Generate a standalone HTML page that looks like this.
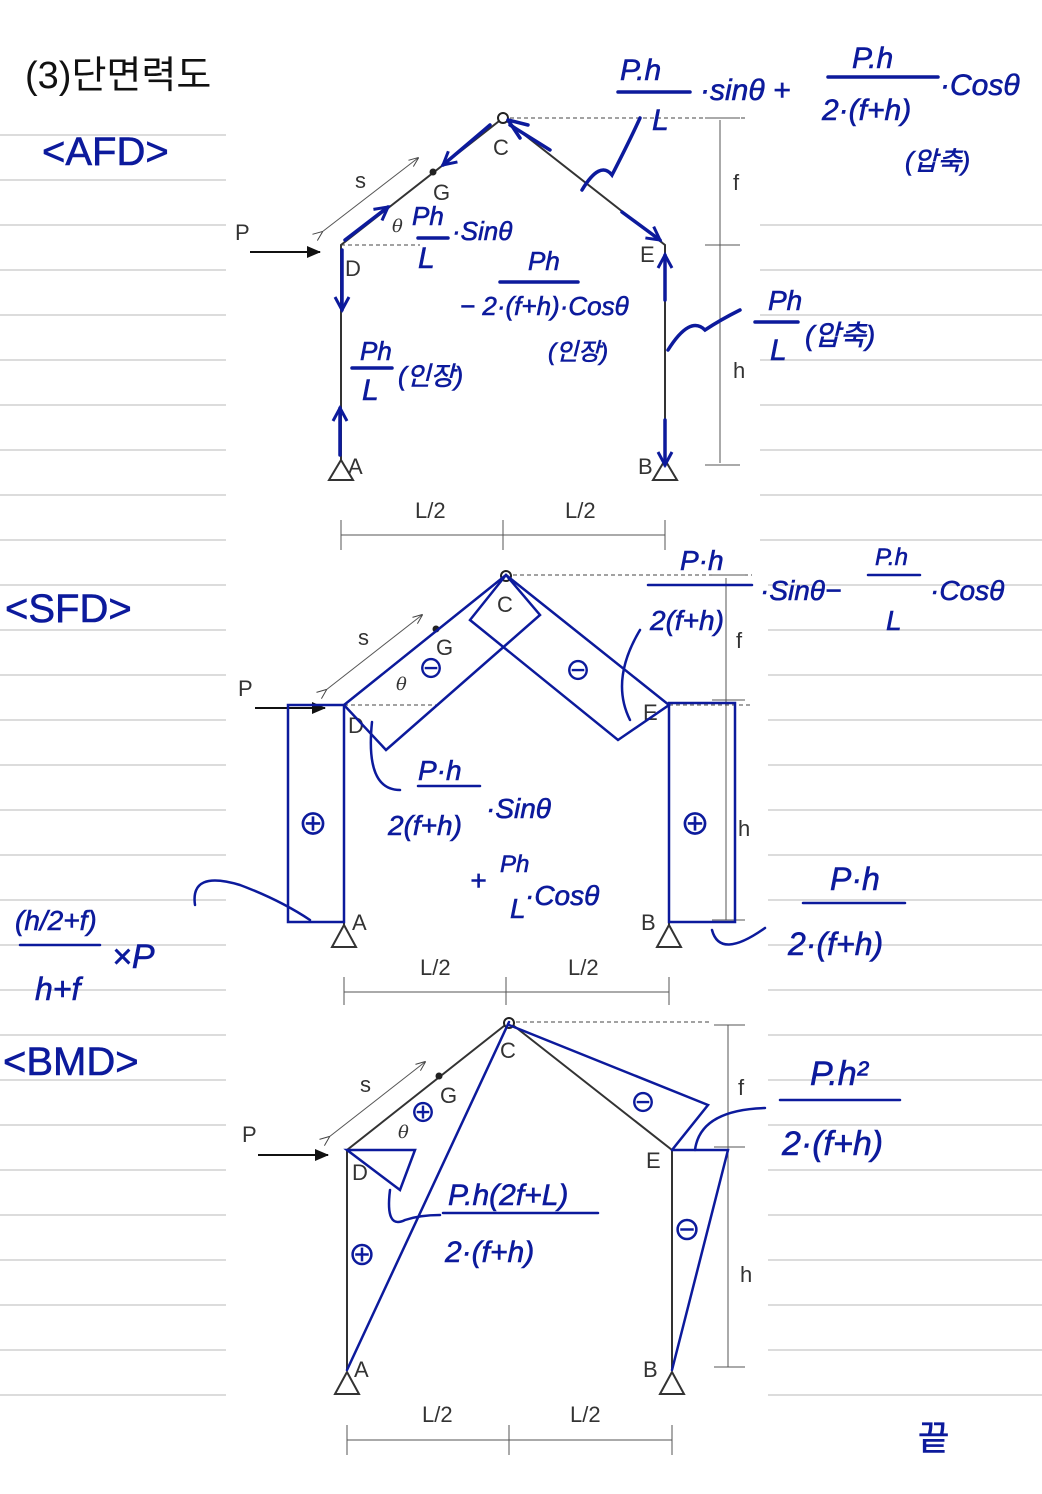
<!DOCTYPE html>
<html><head><meta charset="utf-8"><style>
html,body{margin:0;padding:0;background:#fff;}
svg{display:block}
.k{font-family:"Liberation Sans",sans-serif;font-size:22px;fill:#333}
.b{font-family:"Liberation Sans","Noto Sans CJK KR",sans-serif;fill:#0c1a9c;font-style:italic;stroke:#0c1a9c;stroke-width:0.6}
</style></head><body>
<svg width="1042" height="1494" viewBox="0 0 1042 1494" xmlns="http://www.w3.org/2000/svg">
<defs>
<marker id="ah" markerWidth="10" markerHeight="10" refX="9" refY="5" orient="auto" markerUnits="userSpaceOnUse"><path d="M0,1 L10,5 L0,9" fill="none" stroke="#444" stroke-width="1"/></marker>
<marker id="ap" markerWidth="14" markerHeight="12" refX="13" refY="6" orient="auto" markerUnits="userSpaceOnUse"><path d="M0,0 L14,6 L0,12z" fill="#111"/></marker>
<marker id="bb" markerWidth="18" markerHeight="18" refX="15" refY="9" orient="auto" markerUnits="userSpaceOnUse"><path d="M2,2 L15,9 L2,16" fill="none" stroke="#0c1a9c" stroke-width="3"/></marker>
</defs>
<g stroke="#dcdcdc" stroke-width="2">
<path d="M0,135H226M0,180H226M0,225H226M0,270H226M0,315H226M0,360H226M0,405H226M0,450H226M0,495H226M0,540H226M0,585H226M0,630H226M0,675H226M0,720H226M0,765H226M0,810H226M0,855H226M0,900H226M0,945H226M0,990H226M0,1035H226M0,1080H226M0,1125H226M0,1170H226M0,1215H226M0,1260H226M0,1305H226M0,1350H226M0,1395H226"/>
<path d="M760,225H1042M760,270H1042M760,315H1042M760,360H1042M760,405H1042M760,450H1042M760,495H1042M760,540H1042M760,585H1042M760,630H1042M760,675H1042M760,720H1042M760,765H1042M760,810H1042M760,855H1042M760,900H1042M760,945H1042M760,990H1042M760,1035H1042M760,1080H1042M760,1125H1042M760,1170H1042M760,1215H1042M760,1260H1042M760,1305H1042M760,1350H1042M760,1395H1042"/>
</g>

<text x="25" y="88" font-family="Liberation Sans,Noto Sans CJK KR,sans-serif" font-size="38" fill="#111">(3)단면력도</text>
<text class="b" x="42" y="165" font-size="40" style="font-style:normal">&lt;AFD&gt;</text>
<text class="b" x="5" y="622" font-size="40" style="font-style:normal">&lt;SFD&gt;</text>
<text class="b" x="3" y="1075" font-size="40" style="font-style:normal">&lt;BMD&gt;</text>

<g>
<rect x="228" y="110" width="530" height="440" fill="#fff"/>
<path d="M341,480 V245 L503,118 L665,245 V480" fill="none" stroke="#333" stroke-width="2"/>
<path d="M341,245 H420 M503,118 H748" stroke="#444" stroke-dasharray="4,3"/>
<circle cx="503" cy="118" r="5" fill="#fff" stroke="#222" stroke-width="2"/>
<circle cx="433" cy="172" r="3.5" fill="#222"/>
<path d="M329,480 L341,460 L353,480Z M653,480 L665,460 L677,480Z" fill="#fff" stroke="#333" stroke-width="2"/>
<path d="M250,252 H320" stroke="#111" stroke-width="2" marker-end="url(#ap)"/>
<text class="k" x="235" y="240">P</text><text class="k" x="345" y="276">D</text><text class="k" x="640" y="262">E</text>
<text class="k" x="493" y="155">C</text><text class="k" x="433" y="200">G</text><text class="k" x="348" y="474">A</text><text class="k" x="638" y="474">B</text>
<text class="k" x="355" y="188">s</text><text class="k" x="733" y="190">f</text><text class="k" x="733" y="378">h</text>
<text x="392" y="232" font-family="DejaVu Serif,serif" font-style="italic" font-size="18" fill="#333">θ</text>
<path d="M322,232 L418,158" stroke="#555" marker-end="url(#ah)" marker-start="url(#ah)"/>
<path d="M720,120V463 M705,118H740 M705,245H740 M705,465H740" stroke="#555"/>
<path d="M341,535H665 M341,520V550 M503,520V550 M665,520V550" stroke="#555"/>
<text class="k" x="415" y="518">L/2</text><text class="k" x="565" y="518">L/2</text>
</g>

<g>
<rect x="228" y="560" width="540" height="450" fill="#fff"/>
<path d="M344,925 V705 L506,575 L669,705 V925" fill="none" stroke="#333" stroke-width="2"/>
<path d="M344,705 H440 M506,575 H752 M669,705 H752" stroke="#444" stroke-dasharray="4,3"/>
<circle cx="506" cy="576" r="5" fill="#fff" stroke="#222" stroke-width="2"/>
<circle cx="436" cy="629" r="3.5" fill="#222"/>
<path d="M332,947 L344,925 L356,947Z M657,947 L669,925 L681,947Z" fill="#fff" stroke="#333" stroke-width="2"/>
<path d="M255,708 H325" stroke="#111" stroke-width="2" marker-end="url(#ap)"/>
<text class="k" x="238" y="696">P</text><text class="k" x="348" y="733">D</text><text class="k" x="643" y="720">E</text>
<text class="k" x="497" y="612">C</text><text class="k" x="436" y="655">G</text><text class="k" x="352" y="930">A</text><text class="k" x="641" y="930">B</text>
<text class="k" x="358" y="645">s</text><text class="k" x="736" y="648">f</text><text class="k" x="738" y="836">h</text>
<text x="396" y="690" font-family="DejaVu Serif,serif" font-style="italic" font-size="18" fill="#333">θ</text>
<path d="M326,690 L422,615" stroke="#555" marker-end="url(#ah)" marker-start="url(#ah)"/>
<path d="M726,578V920 M712,575H745 M712,700H745 M712,920H745" stroke="#555"/>
<path d="M344,992H669 M344,977V1005 M506,977V1005 M669,977V1005" stroke="#555"/>
<text class="k" x="420" y="975">L/2</text><text class="k" x="568" y="975">L/2</text>
</g>

<g>
<rect x="228" y="1010" width="540" height="460" fill="#fff"/>
<path d="M347,1370 V1150 L509,1022 L672,1150 V1370" fill="none" stroke="#333" stroke-width="2"/>
<path d="M509,1022 H712" stroke="#444" stroke-dasharray="4,3"/>
<circle cx="509" cy="1023" r="5" fill="#fff" stroke="#222" stroke-width="2"/>
<circle cx="439" cy="1076" r="3.5" fill="#222"/>
<path d="M335,1394 L347,1372 L359,1394Z M660,1394 L672,1372 L684,1394Z" fill="#fff" stroke="#333" stroke-width="2"/>
<path d="M258,1155 H328" stroke="#111" stroke-width="2" marker-end="url(#ap)"/>
<text class="k" x="242" y="1142">P</text><text class="k" x="352" y="1180">D</text><text class="k" x="646" y="1168">E</text>
<text class="k" x="500" y="1058">C</text><text class="k" x="440" y="1103">G</text><text class="k" x="354" y="1377">A</text><text class="k" x="643" y="1377">B</text>
<text class="k" x="360" y="1092">s</text><text class="k" x="738" y="1095">f</text><text class="k" x="740" y="1282">h</text>
<text x="398" y="1138" font-family="DejaVu Serif,serif" font-style="italic" font-size="18" fill="#333">θ</text>
<path d="M329,1137 L425,1062" stroke="#555" marker-end="url(#ah)" marker-start="url(#ah)"/>
<path d="M728,1025V1367 M714,1025H745 M714,1147H745 M714,1367H745" stroke="#555"/>
<path d="M347,1440H672 M347,1425V1455 M509,1425V1455 M672,1425V1455" stroke="#555"/>
<text class="k" x="422" y="1422">L/2</text><text class="k" x="570" y="1422">L/2</text>
</g>

<g stroke="#0c1a9c" stroke-width="3.5" fill="none" stroke-linecap="round">
<path d="M490,125 L443,165" marker-end="url(#bb)"/>
<path d="M510,125 L550,150"/><path d="M508,120 L528,125 M508,120 L520,138"/>
<path d="M345,240 L388,207" marker-end="url(#bb)"/>
<path d="M342,250 V310" marker-end="url(#bb)"/>
<path d="M340,455 V408" marker-end="url(#bb)"/>
<path d="M622,212 L660,240" marker-end="url(#bb)"/>
<path d="M665,300 V255" marker-end="url(#bb)"/>
<path d="M665,420 V465" marker-end="url(#bb)"/>
<path d="M582,190 Q600,160 612,175 Q630,140 640,118"/>
<path d="M668,350 Q690,315 705,330 Q720,320 740,310"/>
<path d="M618,92H690 M828,77H938 M755,322H798 M352,368H392 M500,282H578 M418,238H448"/>
</g>
<g class="b" font-size="30">
<text x="620" y="80">P.h</text><text x="652" y="130">L</text><text x="700" y="100">·sinθ +</text>
<text x="852" y="68">P.h</text><text x="822" y="120">2·(f+h)</text><text x="940" y="95">·Cosθ</text>
<text x="905" y="170" font-size="26">(압축)</text>
<text x="412" y="225" font-size="26">Ph</text><text x="418" y="268">L</text><text x="452" y="240" font-size="26">·Sinθ</text>
<text x="528" y="270" font-size="26">Ph</text><text x="460" y="315" font-size="26">− 2·(f+h)·Cosθ</text>
<text x="548" y="360" font-size="24">(인장)</text>
<text x="360" y="360" font-size="26">Ph</text><text x="362" y="400">L</text><text x="398" y="385" font-size="26">(인장)</text>
<text x="768" y="310" font-size="28">Ph</text><text x="770" y="360">L</text><text x="805" y="345" font-size="28">(압축)</text>
</g>

<g stroke="#0c1a9c" stroke-width="2.5" fill="none" stroke-linecap="round">
<path d="M288,705 H344 V922 H288 Z"/>
<path d="M669,703 H735 V922 H669 Z"/>
<path d="M344,705 L506,575 L540,615 L386,750 Z"/>
<path d="M506,575 L669,705 L618,740 L470,620 Z"/>
<path d="M372,722 Q365,790 400,790"/>
<path d="M640,630 Q610,680 630,720"/>
<path d="M195,905 Q190,870 240,885 Q280,900 310,920"/>
<path d="M712,930 Q720,960 765,928"/>
<path d="M648,585H752 M868,575H920 M418,786H480 M803,903H905 M20,945H100"/>
</g>
<g class="b" font-size="28">
<text x="680" y="570">P·h</text><text x="650" y="630">2(f+h)</text><text x="760" y="600">·Sinθ− </text><text x="875" y="565" font-size="24">P.h</text><text x="886" y="630">L</text><text x="930" y="600">·Cosθ</text>
<text x="418" y="780">P·h</text><text x="388" y="835">2(f+h)</text><text x="486" y="818">·Sinθ</text>
<text x="470" y="890">+</text><text x="500" y="872" font-size="24">Ph</text><text x="510" y="918">L</text><text x="525" y="905">·Cosθ</text>
<text x="830" y="890" font-size="32">P·h</text><text x="788" y="955" font-size="32">2·(f+h)</text>
<text x="15" y="930" font-size="28">(h/2+f)</text><text x="35" y="1000" font-size="32">h+f</text><text x="112" y="968" font-size="34">×P</text>
<text x="298" y="835" font-size="30" style="font-style:normal">⊕</text><text x="680" y="835" font-size="30" style="font-style:normal">⊕</text>
<text x="418" y="678" font-size="26" style="font-style:normal">⊖</text><text x="565" y="680" font-size="26" style="font-style:normal">⊖</text>
</g>

<g stroke="#0c1a9c" stroke-width="2.5" fill="none" stroke-linecap="round">
<path d="M347,1150 L415,1150 L400,1190 Z"/>
<path d="M347,1370 L509,1022"/>
<path d="M509,1025 L708,1105 L672,1150"/>
<path d="M672,1150 L728,1150 L672,1370"/>
<path d="M390,1190 Q385,1230 405,1220 Q420,1215 440,1215"/>
<path d="M695,1150 Q700,1110 765,1108"/>
<path d="M443,1213H598 M780,1100H900"/>
</g>
<g class="b" font-size="30">
<text x="448" y="1205">P.h(2f+L)</text><text x="445" y="1262">2·(f+h)</text>
<text x="810" y="1085" font-size="34">P.h²</text><text x="782" y="1155" font-size="34">2·(f+h)</text>
<text x="410" y="1122" font-size="26" style="font-style:normal">⊕</text><text x="348" y="1265" font-size="28" style="font-style:normal">⊕</text>
<text x="630" y="1112" font-size="26" style="font-style:normal">⊖</text><text x="673" y="1240" font-size="28" style="font-style:normal">⊖</text>
<text x="918" y="1450" font-size="34" style="font-style:normal">끝</text>
</g>
</svg>
</body></html>
